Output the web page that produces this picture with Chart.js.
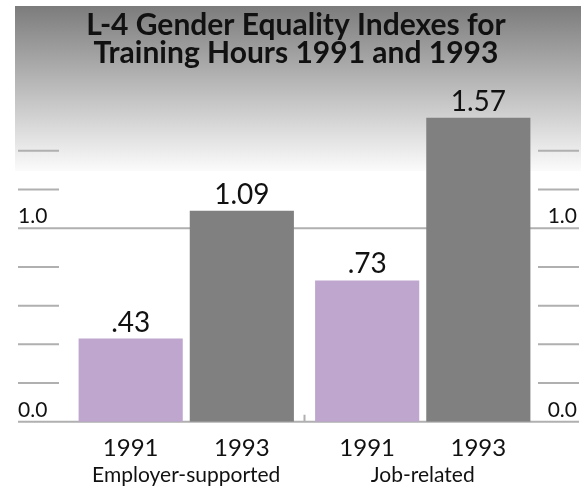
<!DOCTYPE html>
<html>
<head>
<meta charset="utf-8">
<script src="https://cdn.jsdelivr.net/npm/chart.js@4.4.1/dist/chart.umd.min.js"></script>
<style>
  html, body { margin: 0; padding: 0; background: #fff; }
  canvas { display: block; }
</style>
</head>
<body>
<canvas id="myChart" width="581" height="493"></canvas>
<script>
// data
const categories = ['Employer-supported', 'Job-related'];
const years = ['1991', '1993'];
const values1991 = [0.43, 0.73];
const values1993 = [1.09, 1.57];
const fullRules = [0, 1.0];          // lines across the whole chart, with labels
const shortRules = [0.2, 0.4, 0.6, 0.8, 1.2, 1.4];
const titleLines = ['L-4 Gender Equality Indexes for', 'Training Hours 1991 and 1993'];

const purple = '#bea6ce';
const gray = '#808080';
const ruleColor = '#b0b0b0';
const fontName = 'Lato, "Open Sans", sans-serif';

function fmt(v) {
    // .43 / 1.09 style, no leading zero
    return v.toFixed(2).replace(/^0/, '');
}

const decor = {
    id: 'decor',
    beforeDraw(chart) {
        const ctx = chart.ctx;
        ctx.save();
        // gray gradient band at the top
        const g = ctx.createLinearGradient(0, 6, 0, 171);
        g.addColorStop(0, '#7c7c7c');
        g.addColorStop(1, '#fbfbfb');
        ctx.fillStyle = g;
        ctx.fillRect(15, 6, chart.width - 15, 165);

        ctx.fillStyle = '#111';
        ctx.font = 'bold 30px ' + fontName;
        ctx.textAlign = 'center';
        ctx.textBaseline = 'alphabetic';
        ctx.fillText(titleLines[0], 296, 35);
        ctx.fillText(titleLines[1], 296, 63);
        ctx.restore();
    },
    beforeDatasetsDraw(chart) {
        const ctx = chart.ctx;
        const y = chart.scales.y;
        const x = chart.scales.x;
        ctx.save();
        ctx.strokeStyle = ruleColor;
        ctx.lineWidth = 2;
        ctx.beginPath();
        fullRules.forEach(v => {
            const py = y.getPixelForValue(v);
            ctx.moveTo(18, py);
            ctx.lineTo(579, py);
        });
        shortRules.forEach(v => {
            const py = y.getPixelForValue(v);
            ctx.moveTo(18, py);
            ctx.lineTo(59, py);
            ctx.moveTo(538, py);
            ctx.lineTo(579, py);
        });
        // little mark between the two groups
        const mid = (x.getPixelForValue(0) + x.getPixelForValue(1)) / 2;
        const py0 = y.getPixelForValue(0);
        ctx.moveTo(mid, py0);
        ctx.lineTo(mid, py0 - 7);
        ctx.stroke();

        ctx.fillStyle = '#111';
        ctx.font = '21px ' + fontName;
        ctx.textBaseline = 'alphabetic';
        fullRules.forEach(v => {
            const py = y.getPixelForValue(v) - 5;
            ctx.textAlign = 'left';
            ctx.fillText(v.toFixed(1), 18, py);
            ctx.textAlign = 'right';
            ctx.fillText(v.toFixed(1), 577, py);
        });
        ctx.restore();
    },
    afterDatasetsDraw(chart) {
        const ctx = chart.ctx;
        const bottom = chart.chartArea.bottom;
        ctx.save();
        ctx.fillStyle = '#111';
        ctx.textAlign = 'center';
        ctx.textBaseline = 'alphabetic';
        chart.data.datasets.forEach((ds, i) => {
            const meta = chart.getDatasetMeta(i);
            meta.data.forEach((bar, j) => {
                ctx.font = '28px ' + fontName;
                ctx.fillText(fmt(ds.data[j]), bar.x, bar.y - 7);
                ctx.font = '24px ' + fontName;
                ctx.fillText(ds.label, bar.x, bottom + 34);
            });
        });
        ctx.restore();
    }
};

const chart = new Chart(document.getElementById('myChart').getContext('2d'), {
    type: 'bar',
    data: {
        labels: categories,
        datasets: [
            { label: years[0], data: values1991, backgroundColor: purple,
              barPercentage: 0.937, categoryPercentage: 0.94 },
            { label: years[1], data: values1993, backgroundColor: gray,
              barPercentage: 0.937, categoryPercentage: 0.94 }
        ]
    },
    options: {
        responsive: false,
        animation: false,
        // tick padding is counted twice in the axis height, so pull the bottom back
        layout: { padding: { left: 68, right: 40, top: 112, bottom: -36 } },
        plugins: {
            legend: { display: false },
            tooltip: { enabled: false }
        },
        scales: {
            y: { display: false, min: 0, max: 1.6 },
            x: {
                grid: { display: false, drawTicks: false },
                border: { display: false },
                ticks: {
                    color: '#111',
                    font: { family: fontName, size: 21 },
                    padding: 41
                }
            }
        }
    },
    plugins: [decor]
});
</script>
</body>
</html>
